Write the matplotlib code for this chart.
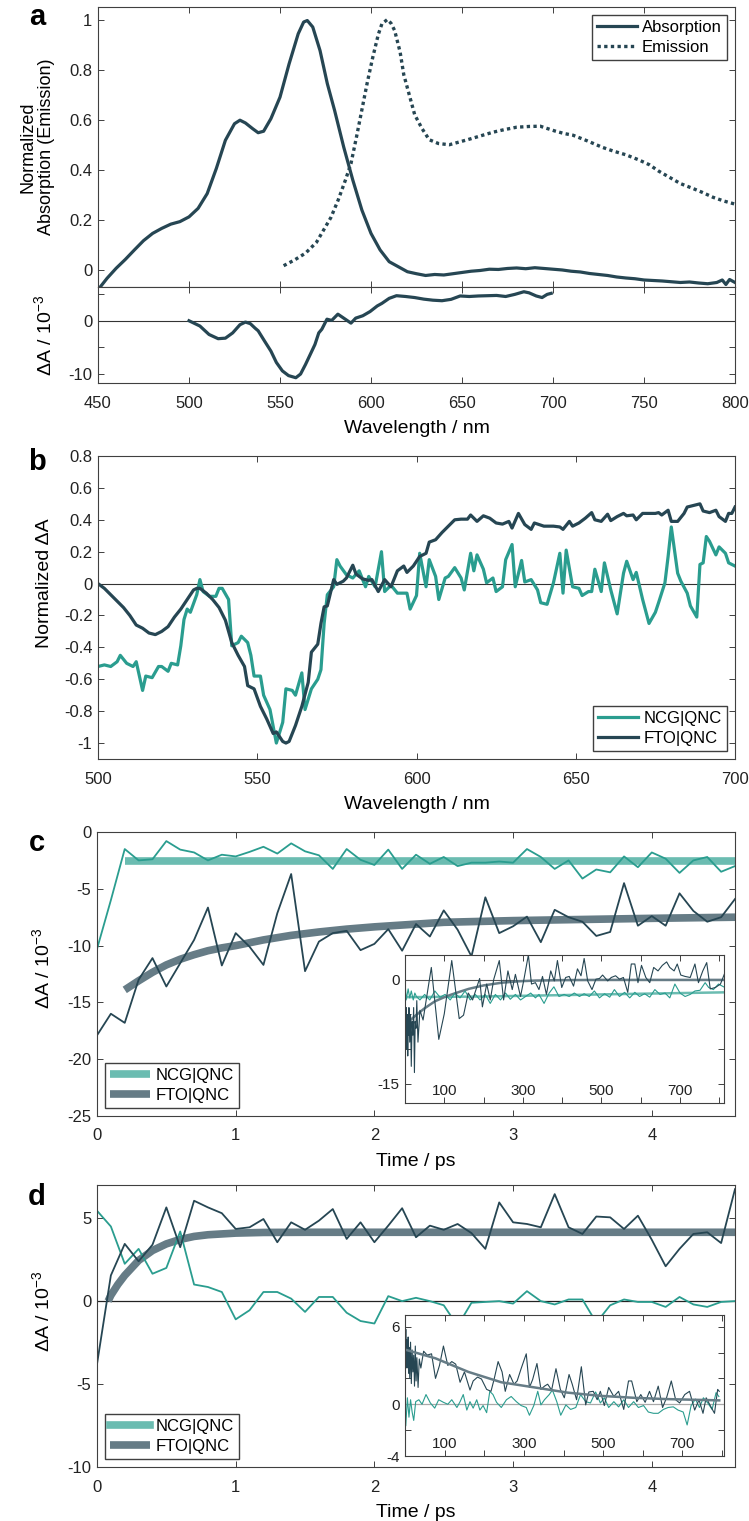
import numpy as np
import matplotlib
matplotlib.use('Agg')
import matplotlib.pyplot as plt
from matplotlib.lines import Line2D

plt.rcParams['font.family'] = ['Liberation Sans', 'DejaVu Sans']
plt.rcParams['mathtext.default'] = 'regular'
plt.rcParams['axes.unicode_minus'] = False

DARK = '#264653'
TEAL = '#2a9d8f'
DARK_FIT = '#667c86'
TEAL_FIT = '#6bbcb1'
AX_COL = '#404040'

# ---- panel a: steady state spectra ----
wl_abs = [451, 455, 460, 465, 470, 475, 480, 485, 490, 495, 500, 505, 510, 515, 520, 525, 528,
          531, 535, 538, 541, 545, 550, 555, 560, 563, 565, 568, 572, 576, 580, 585, 590, 595,
          600, 605, 610, 615, 620, 625, 630, 635, 640, 645, 650, 655, 660, 665, 670, 675, 680,
          685, 690, 695, 700, 705, 710, 715, 720, 725, 730, 735, 740, 745, 750, 755, 760, 765,
          770, 775, 780, 785, 790, 793, 795, 797, 800]
absorption = [-0.07, -0.033, 0.007, 0.042, 0.08, 0.117, 0.146, 0.166, 0.183, 0.193, 0.212, 0.246,
              0.305, 0.405, 0.518, 0.584, 0.598, 0.587, 0.564, 0.548, 0.554, 0.604, 0.69, 0.823,
              0.943, 0.99, 0.996, 0.97, 0.876, 0.744, 0.637, 0.491, 0.359, 0.239, 0.146, 0.08,
              0.033, 0.013, -0.007, -0.015, -0.022, -0.018, -0.02, -0.015, -0.01, -0.005, -0.002,
              0.003, 0.002, 0.006, 0.008, 0.005, 0.009, 0.006, 0.003, 0.0, -0.005, -0.008, -0.014,
              -0.018, -0.022, -0.028, -0.032, -0.035, -0.04, -0.042, -0.044, -0.047, -0.05, -0.048,
              -0.052, -0.055, -0.05, -0.04, -0.058, -0.038, -0.05]

wl_em = [552, 558, 564, 570, 574, 578, 582, 586, 589, 592, 595, 598, 601, 604, 606, 609, 611,
         613, 616, 618, 621, 624, 628, 632, 637, 643, 648, 653, 660, 667, 673, 680, 687, 693,
         701, 706, 711, 719, 727, 733, 740, 747, 753, 758, 764, 770, 777, 782, 788, 794, 800]
emission = [0.017, 0.04, 0.067, 0.11, 0.16, 0.21, 0.28, 0.36, 0.425, 0.53, 0.64, 0.75, 0.85, 0.94,
            0.983, 1.0, 0.985, 0.956, 0.87, 0.78, 0.70, 0.62, 0.565, 0.52, 0.505, 0.50, 0.51,
            0.52, 0.535, 0.55, 0.56, 0.57, 0.573, 0.574, 0.555, 0.545, 0.538, 0.515, 0.49, 0.475,
            0.46, 0.44, 0.42, 0.395, 0.37, 0.345, 0.325, 0.31, 0.29, 0.275, 0.263]

wl_da = [500, 506, 511, 516, 520, 524, 528, 531, 533.7, 536.3, 538, 541.6, 545, 548, 551.3,
         554.7, 558.7, 561.3, 564, 566.6, 569.2, 571.3, 573, 575.8, 578.4, 581.8, 585, 589,
         591.6, 595.5, 599.5, 603.4, 606, 610, 614, 619, 624, 629, 634, 639, 644, 649, 654, 659,
         664, 669, 674, 679, 684, 686.8, 690.8, 694, 696.8, 699]
delta_a = [0, -1.0, -2.6, -3.4, -3.3, -2.3, -0.75, -0.25, -0.55, -1.4, -1.9, -3.9, -5.75, -7.9,
           -9.5, -10.4, -10.8, -10.1, -8.3, -6.4, -4.5, -2.3, -1.6, 0.3, 0.06, 1.25, 0.5, -0.45,
           0.5, 0.95, 1.75, 2.8, 3.3, 4.25, 4.75, 4.6, 4.4, 4.1, 3.9, 3.8, 4.06, 4.7, 4.6, 4.7,
           4.75, 4.8, 4.6, 5.0, 5.5, 5.3, 4.7, 4.4, 5.0, 5.2]

# ---- panel b: normalized transient spectra ----
wl_fto = [500, 502, 505, 508, 510, 512, 514, 516, 518, 520, 522, 524, 526, 528, 530, 531, 532,
          534, 536, 538, 540, 542, 544, 546, 547, 549, 551, 553, 555, 556, 558, 559, 560, 562,
          564, 566, 567, 569, 570, 571, 572, 574, 575, 577, 578, 580, 581, 583, 585, 586, 588,
          590, 592, 594, 596, 597, 599, 601, 603, 604, 606, 608, 610, 612, 614, 616, 617, 619,
          621, 623, 625, 627, 629, 630, 632, 634, 636, 637, 640, 643, 645, 646, 648, 649, 651,
          653, 655, 656, 658, 660, 661, 663, 665, 666, 668, 669, 671, 673, 675, 676, 677, 679,
          680, 682, 684, 685, 687, 689, 690, 692, 694, 695, 697, 698, 699, 700]
fto_b = [0, -0.03, -0.09, -0.15, -0.2, -0.26, -0.28, -0.31, -0.32, -0.3, -0.27, -0.21, -0.16,
         -0.1, -0.04, -0.03, -0.03, -0.06, -0.1, -0.15, -0.23, -0.37, -0.45, -0.52, -0.64, -0.66,
         -0.77, -0.85, -0.94, -0.93, -0.99, -1.0, -0.99, -0.89, -0.77, -0.62, -0.43, -0.38,
         -0.25, -0.146, -0.14, 0.025, -0.005, 0.015, 0.035, 0.115, 0.06, 0.03, 0.02, 0.025,
         -0.05, 0.025, -0.02, 0.08, 0.11, 0.07, 0.11, 0.17, 0.19, 0.26, 0.275, 0.32, 0.36, 0.40,
         0.404, 0.404, 0.43, 0.39, 0.425, 0.41, 0.38, 0.373, 0.39, 0.348, 0.44, 0.37, 0.34, 0.38,
         0.36, 0.36, 0.355, 0.34, 0.39, 0.36, 0.38, 0.41, 0.445, 0.4, 0.39, 0.435, 0.395, 0.42,
         0.44, 0.425, 0.43, 0.4, 0.44, 0.44, 0.44, 0.445, 0.43, 0.46, 0.39, 0.39, 0.44, 0.48,
         0.49, 0.50, 0.455, 0.445, 0.46, 0.42, 0.39, 0.44, 0.44, 0.48]

wl_ncg = [500, 502, 504, 506, 507, 509, 511, 512, 514, 515, 517, 519, 520, 522, 523, 525, 526,
          527, 528, 529, 531, 532, 533, 535, 537, 538, 539, 541, 542, 544, 545, 547, 548, 549,
          551, 552, 554, 556, 558, 559, 561, 562, 564, 565, 567, 569, 570, 571, 572, 574, 575,
          576, 578, 580, 582, 584, 585, 587, 589, 590, 592, 594, 595, 597, 598, 600, 601, 603,
          604, 606, 607, 609, 610, 612, 614, 615, 617, 618, 619, 621, 622, 624, 625, 627, 628,
          630, 631, 633, 634, 636, 638, 639, 641, 643, 645, 646, 647, 649, 651, 652, 654, 655,
          656, 658, 659, 661, 663, 665, 666, 668, 669, 671, 673, 675, 676, 678, 679, 680, 682,
          683, 685, 686, 688, 689, 690, 691, 692, 694, 695, 697, 698, 700]
ncg_b = [-0.52, -0.51, -0.52, -0.49, -0.45, -0.5, -0.52, -0.49, -0.67, -0.58, -0.59, -0.52,
         -0.52, -0.55, -0.5, -0.51, -0.39, -0.225, -0.16, -0.18, -0.07, 0.025, -0.05, -0.08,
         -0.08, -0.03, -0.03, -0.1, -0.39, -0.37, -0.33, -0.37, -0.45, -0.58, -0.58, -0.7, -0.79,
         -1.0, -0.87, -0.66, -0.67, -0.7, -0.56, -0.79, -0.66, -0.6, -0.54, -0.25, -0.07, -0.02,
         0.15, 0.11, 0.055, 0.035, 0.08, -0.02, 0.045, -0.02, 0.2, -0.05, -0.01, -0.06, -0.06,
         -0.06, -0.16, -0.075, 0.19, -0.02, 0.15, 0.045, -0.1, 0.035, 0.045, 0.1, 0.035, -0.04,
         0.19, 0.08, 0.18, 0.09, 0.005, 0.035, -0.05, -0.02, 0.15, 0.245, -0.02, 0.145, 0.01,
         0.025, -0.04, -0.12, -0.13, 0.005, 0.19, -0.06, 0.21, -0.02, -0.03, -0.075, -0.05, -0.05,
         0.09, -0.05, 0.13, -0.04, -0.19, 0.065, 0.14, 0.025, 0.07, -0.1, -0.25, -0.18, -0.12,
         0.005, 0.17, 0.355, 0.065, 0.015, -0.06, -0.14, -0.21, 0.12, 0.13, 0.295, 0.265, 0.18,
         0.23, 0.19, 0.13, 0.11]

# ---- panels c/d: kinetics (fs window) ----
t_fs = [0.0, 0.1, 0.2, 0.3, 0.4, 0.5, 0.6, 0.7, 0.8, 0.9, 1.0, 1.1, 1.2, 1.3, 1.4, 1.5, 1.6,
        1.7, 1.8, 1.9, 2.0, 2.1, 2.2, 2.3, 2.4, 2.5, 2.6, 2.7, 2.8, 2.9, 3.0, 3.1, 3.2, 3.3,
        3.4, 3.5, 3.6, 3.7, 3.8, 3.9, 4.0, 4.1, 4.2, 4.3, 4.4, 4.5, 4.6]

ncg_c = [-10.3, -6.0, -1.5, -2.5, -2.4, -0.8, -1.55, -1.8, -2.5, -2.0, -2.15, -1.75, -1.3, -1.9,
         -1.0, -1.7, -2.05, -3.25, -1.5, -2.45, -2.9, -1.55, -3.25, -2.0, -2.8, -2.2, -3.0, -2.7,
         -2.7, -2.6, -2.7, -1.5, -2.2, -3.25, -2.5, -4.1, -3.3, -3.55, -2.15, -3.1, -1.8, -2.35,
         -3.6, -2.5, -2.2, -3.5, -3.0]
fto_c = [-17.9, -16.0, -16.8, -13.0, -11.1, -13.6, -11.55, -9.5, -6.65, -11.75, -8.9, -10.1,
         -11.7, -7.15, -3.7, -12.25, -9.65, -8.9, -8.7, -10.4, -9.85, -8.55, -10.45, -8.1, -9.2,
         -6.9, -8.6, -10.95, -5.75, -8.9, -8.3, -7.45, -9.7, -6.85, -7.5, -7.9, -9.15, -8.8,
         -4.5, -8.25, -7.4, -8.25, -5.4, -6.95, -7.9, -7.5, -5.9]
fit_t_ncg_c = [0.2, 4.6]
fit_ncg_c = [-2.55, -2.55]
fit_t_fto_c = [0.2, 0.3, 0.4, 0.5, 0.6, 0.7, 0.8, 0.9, 1.0, 1.2, 1.4, 1.6, 1.8, 2.0, 2.5, 3.0,
               3.5, 4.0, 4.6]
fit_fto_c = [-13.9, -13.1, -12.35, -11.7, -11.2, -10.8, -10.45, -10.2, -10.0, -9.5, -9.1, -8.8,
             -8.55, -8.35, -7.95, -7.8, -7.7, -7.6, -7.5]

ncg_d = [5.45, 4.5, 2.25, 3.15, 1.65, 2.0, 4.2, 1.0, 0.85, 0.55, -1.1, -0.55, 0.55, 0.55, 0.15,
         -0.65, 0.25, 0.25, -0.7, -1.2, -1.35, 0.3, 0, 0.2, 0, -0.25, -1.5, -0.1, -0.05, 0,
         -0.15, 0.6, 0, -0.2, 0.1, 0.1, -1.3, -0.25, 0.1, -0.05, -0.05, -0.35, 0.25, -0.2, -0.35,
         -0.05, 0]
fto_d = [-3.8, 1.55, 3.45, 2.4, 3.4, 5.65, 3.25, 6.05, 5.65, 5.3, 4.35, 4.45, 4.95, 3.55, 4.75,
         4.3, 4.85, 5.55, 3.75, 4.75, 3.55, 4.55, 5.6, 3.85, 4.55, 4.3, 4.65, 4.1, 3.15, 5.95,
         4.75, 4.65, 4.45, 6.45, 4.45, 4.05, 5.1, 5.05, 4.35, 5.15, 3.7, 2.1, 3.15, 4.05, 4.15,
         3.5, 6.75]
fit_t_fto_d = [0.08, 0.1, 0.15, 0.2, 0.3, 0.4, 0.5, 0.6, 0.7, 0.8, 1.0, 1.2, 1.5, 2.0, 4.6]
fit_fto_d = [0, 0.35, 1.0, 1.55, 2.45, 3.05, 3.45, 3.72, 3.9, 4.0, 4.1, 4.14, 4.15, 4.15, 4.15]

# ---- insets: long time window (ps) ----
tin_fto_c = [0, 1, 2, 3, 4, 5, 6, 7, 8, 9, 10, 12, 14, 16, 18, 20, 22, 24, 26, 28, 30, 33,
             38, 46, 67, 86, 100, 119, 138, 149, 161, 172, 190, 197, 208, 217, 226, 240, 251,
             262, 273, 281, 294, 302, 314, 322, 332, 341, 350, 360, 371, 380, 388, 399, 409,
             418, 429, 439, 448, 456, 465, 476, 486, 495, 503, 516, 525, 536, 546, 556, 567,
             576, 585, 593, 602, 613, 623, 633, 644, 655, 666, 674, 685, 693, 702, 713, 726,
             738, 747, 758, 768, 777, 790, 803, 813]
in_fto_c = [-14, -6, -9, -4, -10, -7, -5, -11, -6, -8, -4, -9, -5, -12.5, -6, -8, -4, -13.4, -6,
            -7, -3, -9,
            -4.4, -5.8, 1.8, -8.6, -4.9, 2.8, -5.6, -5.1, -1.9, -2.9, 0.2, -3.9, -0.6, -2.9, 0.1,
            2.8, -2.9, 1.3, -1.4, 0.8, -2.4, -0.15, 3.6, -0.6, -0.4, -1.4, 0.5, -2.1, 1.3, -0.15,
            2.8, -1.1, 0.35, 0.5, -0.9, 1.6, 0.6, 3.1, -0.15, -1.4, 0.1, 0.2, 0.7, -0.15, 0.35,
            0.6, 0.1, 0.35, -1.8, 2.3, 2.3, -0.4, 2.1, 0.35, -0.4, 1.8, 1.3, 2.1, 2.6, 1.8, 1.3,
            2.3, 0.7, 0.5, 0.35, 2.3, -0.4, 1.3, 2.5, -1.3, -1.1, -0.6, 0.85]
tin_ncg_c = [1, 3, 8, 12, 16, 21, 25, 29, 38, 50, 63, 76, 89, 102, 115, 127, 140, 153, 166, 179,
             191, 204, 217, 230, 243, 256, 268, 281, 294, 307, 320, 332, 341, 354, 367, 379, 392,
             405, 418, 431, 444, 456, 469, 482, 495, 508, 521, 533, 546, 559, 572, 585, 597, 610,
             623, 636, 649, 662, 674, 687, 700, 713, 726, 738, 751, 764, 773, 785, 798, 811]
in_ncg_c = [-1.1, -2.9, -1.3, -2.6, -1.6, -2.9, -1.9, -2.4, -2.9, -2.1, -2.9, -1.6, -2.5, -2.1,
            -2.9, -1.9, -2.6, -1.6, -2.9, -2.1, -2.9, -2.1, -3.4, -2.1, -2.9, -1.9, -2.8, -2.1,
            -2.9, -2.4, -1.9, -2.6, -2.1, -3.4, -1.9, -1.0, -2.4, -2.1, -2.4, -1.9, -2.4, -2.0,
            -2.4, -1.6, -2.6, -2.0, -2.5, -1.4, -2.4, -1.8, -2.6, -1.8, -2.4, -2.0, -2.5, -1.4,
            -2.1, -1.9, -2.6, -0.6, -1.9, -2.4, -2.1, -1.6, -1.5, -0.4, -1.1, -1.4, -0.6, -1.0]
fit_tin_fto_c = [14, 30, 50, 76, 100, 119, 140, 162, 200, 247, 290, 332, 400, 500, 813]
fit_in_fto_c = [-5.8, -5.0, -4.1, -3.1, -2.5, -2.1, -1.7, -1.3, -0.8, -0.4, -0.2, -0.1, -0.03,
                0, 0]
fit_tin_ncg_c = [0, 200, 400, 600, 813]
fit_in_ncg_c = [-2.5, -2.4, -2.2, -2.0, -1.8]

tin_fto_d = [0, 1, 2, 3, 4, 5, 6, 7, 8, 9, 10, 12, 14, 16, 18, 20, 22, 24, 26, 28, 30, 33, 36,
             40, 47, 56, 67, 77, 87, 97, 108, 118, 128, 139, 150, 164, 172, 183, 193, 206, 217,
             225, 235, 245, 253, 264, 275, 283, 293, 306, 314, 322, 333, 343, 352, 360, 370, 381,
             392, 402, 414, 422, 433, 445, 456, 464, 475, 485, 493, 503, 514, 527, 539, 552, 564,
             572, 585, 595, 606, 617, 627, 639, 650, 660, 672, 683, 693, 706, 718, 731, 742, 752,
             760, 772, 781, 789, 793]
in_fto_d = [6.6, 3.2, 5.8, 3.0, 5.0, 2.8, 4.6, 3.6, 5.2, 2.4, 4.4, 2.0, 4.8, 1.6, 4.2, 2.5, 3.8,
            1.4, 4.5, 1.8, 3.6, 1.3, 3.5, 2.8,
            4.1, 3.8, 3.9, 2.0, 3.0, 4.5, 3.0, 3.3, 3.1, 1.7, 2.5, 1.1, 1.8, 2.1, 1.95, 1.15, 1.0,
            1.95, 3.3, 2.5, 1.0, 2.3, 1.55, 1.8, 2.75, 3.9, 1.3, 1.9, 3.15, 1.15, 1.4, 1.55, 1.1,
            2.75, 1.15, 0.5, 2.3, 1.55, 0.35, 2.9, -0.05, 0.95, 1.0, 0.35, 1.0, -0.1, 1.3, 0.6,
            1.0, -0.4, 1.8, 1.8, 0.2, 0.75, 0.15, 1.0, 0.2, 1.4, -0.25, 0.5, 1.8, 0.35, 0.1, 0.75,
            1.0, -0.45, 0.35, -0.7, 0.5, -0.2, -0.7, 1.15, 1.0]
tin_ncg_d = [2, 6, 10, 14, 18, 22, 27, 35, 43, 53, 64, 75, 85, 97, 108, 118, 131, 139, 147, 156,
             164, 172, 181, 189, 197, 206, 214, 222, 231, 243, 256, 268, 281, 293, 306, 314, 325,
             335, 343, 352, 364, 372, 383, 393, 406, 418, 431, 443, 456, 468, 481, 493, 503, 514,
             527, 539, 552, 564, 577, 589, 602, 614, 627, 639, 652, 664, 677, 689, 702, 712, 722,
             733, 743, 753, 764, 775, 785, 792]
in_ncg_d = [-1.65, 0.5, -1, 0.35, -0.6, -1.25, 0.2, 0.35, 0, 0.75, 0.1, -0.3, 0.35, 0.15, 0,
            0.35, -0.25, 0.2, 0.75, -0.45, 0.2, -0.3, 0.35, -0.45, -0.1, -0.65, 1.0, 0.75, 0.15,
            -0.25, 0.35, 0.6, 0.2, -0.1, -0.25, -0.85, -0.1, 1.0, -0.05, 0.35, 0.75, 1.1, 0.2,
            -0.85, -0.05, -0.4, -0.25, 0.75, 0.2, 0.1, 0.95, 0.1, 0.5, -0.25, 0.2, -0.2, 0.35,
            -0.25, 0.2, -0.25, -0.1, -0.6, -0.7, -0.7, -0.4, -0.25, -0.2, -0.45, -0.6, -1.6, -0.1,
            0.4, -0.25, 0.5, 0.1, -0.4, 0.9, 0.6]
fit_tin_fto_d = [3, 77, 160, 243, 327, 410, 493, 577, 660, 793]
fit_in_fto_d = [4.2, 3.55, 2.5, 1.7, 1.3, 0.9, 0.65, 0.5, 0.4, 0.3]

W, H = 749, 1521


def box(l, t, r, b):
    # pixel box -> figure fraction rect
    return [l / W, 1 - b / H, (r - l) / W, (b - t) / H]


def style(ax, size=12, xpad=9, ypad=4):
    ax.tick_params(direction='in', top=True, right=True, length=4, width=0.7,
                   labelsize=size, colors=AX_COL, labelcolor='#222222')
    ax.tick_params(axis='x', pad=xpad)
    ax.tick_params(axis='y', pad=ypad)
    for s in ax.spines.values():
        s.set_color(AX_COL)
        s.set_linewidth(0.8)


def fmt(v):
    return '%g' % v


def legend(ax, **kw):
    ax.legend(fontsize=12, frameon=True, fancybox=False, edgecolor=AX_COL, framealpha=1,
              handlelength=2.4, borderpad=0.3, labelspacing=0.3, handletextpad=0.3,
              borderaxespad=0.5, **kw)


fig = plt.figure(figsize=(W / 100, H / 100), dpi=100)

# ---- a (top) ----
ax = fig.add_axes(box(98, 7, 735, 287))
ax.plot(wl_abs, absorption, color=DARK, lw=2.3, label='Absorption')
ax.plot(wl_em, emission, color=DARK, lw=2.4, ls=(0, (1, 1)), label='Emission')
ax.set_xlim(450, 800)
ax.set_ylim(-0.068, 1.05)
ax.set_xticks(range(450, 801, 50))
ax.set_xticklabels([])
ax.set_yticks([0, 0.2, 0.4, 0.6, 0.8, 1])
ax.set_yticklabels([fmt(v) for v in [0, 0.2, 0.4, 0.6, 0.8, 1]])
style(ax)
ax.set_ylabel('Normalized\nAbsorption (Emission)', fontsize=13, linespacing=1.15)
ax.yaxis.set_label_coords(-0.067, 0.5)
legend(ax, loc='upper right')

# ---- a (bottom) ----
ax = fig.add_axes(box(98, 287, 735, 383))
ax.axhline(0, color='#333333', lw=0.8)
ax.plot(wl_da, delta_a, color=DARK, lw=2.3)
ax.set_xlim(450, 800)
ax.set_ylim(-11.8, 6.4)
ax.set_xticks(range(450, 801, 50))
ax.set_yticks([-10, -5, 0, 5])
ax.set_yticklabels(['-10', '', '0', ''])
style(ax)
ax.set_ylabel('ΔA / 10$^{-3}$', fontsize=14)
ax.yaxis.set_label_coords(-0.068, 0.5)
ax.set_xlabel('Wavelength / nm', fontsize=14, labelpad=7)

# ---- b ----
ax = fig.add_axes(box(98, 456, 735, 759))
ax.axhline(0, color='#333333', lw=0.8)
ax.plot(wl_ncg, ncg_b, color=TEAL, lw=2.3, label='NCG|QNC')
ax.plot(wl_fto, fto_b, color=DARK, lw=2.3, label='FTO|QNC')
ax.set_xlim(500, 700)
ax.set_ylim(-1.1, 0.8)
ax.set_xticks(range(500, 701, 50))
yt = [-1, -0.8, -0.6, -0.4, -0.2, 0, 0.2, 0.4, 0.6, 0.8]
ax.set_yticks(yt)
ax.set_yticklabels([fmt(v) for v in yt])
style(ax)
ax.set_ylabel('Normalized ΔA', fontsize=14)
ax.yaxis.set_label_coords(-0.071, 0.58)
ax.set_xlabel('Wavelength / nm', fontsize=14, labelpad=7)
legend(ax, loc='lower right')

# ---- c ----
ax = fig.add_axes(box(97, 832, 735, 1116))
l1, = ax.plot(fit_t_ncg_c, fit_ncg_c, color=TEAL_FIT, lw=5.5, solid_capstyle='butt',
              label='NCG|QNC')
l2, = ax.plot(fit_t_fto_c, fit_fto_c, color=DARK_FIT, lw=5.5, solid_capstyle='butt',
              label='FTO|QNC')
ax.plot(t_fs, ncg_c, color=TEAL, lw=1.3)
ax.plot(t_fs, fto_c, color=DARK, lw=1.3)
ax.set_xlim(0, 4.6)
ax.set_ylim(-25, 0)
ax.set_xticks([0, 1, 2, 3, 4])
ax.set_yticks([-25, -20, -15, -10, -5, 0])
style(ax)
ax.set_ylabel('ΔA / 10$^{-3}$', fontsize=14)
ax.yaxis.set_label_coords(-0.069, 0.52)
ax.set_xlabel('Time / ps', fontsize=14, labelpad=7)
legend(ax, handles=[l1, l2], loc='lower left')

ins = fig.add_axes(box(405, 955, 724, 1103))
ins.axhline(0, color='#555555', lw=0.8)
ins.plot(fit_tin_ncg_c, fit_in_ncg_c, color=TEAL_FIT, lw=1.8)
ins.plot(fit_tin_fto_c, fit_in_fto_c, color=DARK_FIT, lw=1.8)
ins.plot(tin_ncg_c, in_ncg_c, color=TEAL, lw=0.8)
ins.plot(tin_fto_c, in_fto_c, color=DARK, lw=0.8)
ins.set_xlim(0, 812)
ins.set_ylim(-17.8, 3.6)
ins.set_xticks(range(100, 801, 100))
ins.set_xticklabels(['100', '', '300', '', '500', '', '700', ''])
ins.set_yticks([-15, -10, -5, 0])
ins.set_yticklabels(['-15', '', '', '0'])
style(ins, size=11, xpad=-14, ypad=4)

# ---- d ----
ax = fig.add_axes(box(97, 1185, 735, 1467))
ax.axhline(0, color='#222222', lw=0.9)
l2, = ax.plot(fit_t_fto_d, fit_fto_d, color=DARK_FIT, lw=5.5, solid_capstyle='butt',
              label='FTO|QNC')
ax.plot(t_fs, ncg_d, color=TEAL, lw=1.3)
ax.plot(t_fs, fto_d, color=DARK, lw=1.3)
l1 = Line2D([], [], color=TEAL_FIT, lw=5.5, label='NCG|QNC')
ax.set_xlim(0, 4.6)
ax.set_ylim(-10, 7)
ax.set_xticks([0, 1, 2, 3, 4])
ax.set_yticks([-10, -5, 0, 5])
style(ax)
ax.set_ylabel('ΔA / 10$^{-3}$', fontsize=14)
ax.yaxis.set_label_coords(-0.069, 0.55)
ax.set_xlabel('Time / ps', fontsize=14, labelpad=7)
legend(ax, handles=[l1, l2], loc='lower left')

ins = fig.add_axes(box(405, 1315, 724, 1456))
ins.axhline(0, color='#aaaaaa', lw=0.9)
ins.plot(tin_ncg_d, in_ncg_d, color=TEAL, lw=0.8)
ins.plot(tin_fto_d, in_fto_d, color=DARK, lw=0.8)
ins.plot(fit_tin_fto_d, fit_in_fto_d, color=DARK_FIT, lw=1.8)
ins.set_xlim(0, 805)
ins.set_ylim(-4, 6.9)
ins.set_xticks(range(100, 801, 100))
ins.set_xticklabels(['100', '', '300', '', '500', '', '700', ''])
ins.set_yticks([-4, -2, 0, 2, 4, 6])
ins.set_yticklabels(['-4', '', '0', '', '', '6'])
style(ins, size=11, xpad=-14, ypad=4)

# panel letters
for letter, y in [('a', 17), ('b', 462), ('c', 843), ('d', 1197)]:
    fig.text(37 / W, 1 - y / H, letter, fontsize=21, fontweight='bold', ha='center', va='center')

fig.savefig('out.png', dpi=100)
